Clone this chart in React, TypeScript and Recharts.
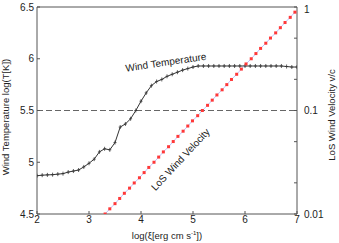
import {
  ComposedChart,
  Line,
  XAxis,
  YAxis,
  ReferenceLine,
} from 'recharts'

// log(xi) grid for the temperature curve
const tempX = [
  2.0, 2.1, 2.2, 2.3, 2.4, 2.5, 2.6, 2.7, 2.8, 2.9,
  3.0, 3.1, 3.2, 3.3, 3.4, 3.5, 3.6, 3.7, 3.8, 3.9,
  4.0, 4.1, 4.2, 4.3, 4.4, 4.5, 4.6, 4.7, 4.8, 4.9,
  5.0, 5.1, 5.2, 5.3, 5.4, 5.5, 5.6, 5.7, 5.8, 5.9,
  6.0, 6.1, 6.2, 6.3, 6.4, 6.5, 6.6, 6.7, 6.8, 6.9, 7.0,
]
const tempY = [
  4.87, 4.875, 4.878, 4.88, 4.885, 4.89, 4.905, 4.915, 4.925, 4.955,
  4.99, 5.03, 5.1, 5.13, 5.12, 5.19, 5.34, 5.37, 5.42, 5.5,
  5.59, 5.67, 5.74, 5.78, 5.8, 5.83, 5.85, 5.87, 5.89, 5.905,
  5.92, 5.93, 5.93, 5.93, 5.93, 5.93, 5.93, 5.93, 5.93, 5.93,
  5.93, 5.93, 5.93, 5.93, 5.93, 5.93, 5.93, 5.93, 5.925, 5.92, 5.92,
]

// line-of-sight velocity (v/c) markers
const velX = [
  3.31, 3.4, 3.5, 3.59, 3.68, 3.78, 3.87, 3.97, 4.06, 4.15,
  4.25, 4.34, 4.43, 4.53, 4.62, 4.71, 4.81, 4.9, 4.99, 5.09,
  5.18, 5.28, 5.37, 5.46, 5.56, 5.65, 5.74, 5.84, 5.93, 6.02,
  6.12, 6.21, 6.3, 6.4, 6.49, 6.59, 6.68, 6.77, 6.87, 6.96,
]
const velY = [
  0.01, 0.01122, 0.01259, 0.01413, 0.01585, 0.01778, 0.01995, 0.02239, 0.02512, 0.02818,
  0.03162, 0.03548, 0.03981, 0.04467, 0.05012, 0.05623, 0.0631, 0.07079, 0.07943, 0.08913,
  0.1, 0.1122, 0.1259, 0.1413, 0.1585, 0.1778, 0.1995, 0.2239, 0.2512, 0.2818,
  0.3162, 0.3548, 0.3981, 0.4467, 0.5012, 0.5623, 0.631, 0.7079, 0.7943, 0.8913,
]

const xTicks = [2, 3, 4, 5, 6, 7]
const tempTicks = [4.5, 5, 5.5, 6, 6.5]
const velTicks = [
  0.01, 0.02, 0.03, 0.04, 0.05, 0.06, 0.07, 0.08, 0.09,
  0.1, 0.2, 0.3, 0.4, 0.5, 0.6, 0.7, 0.8, 0.9, 1,
]
const velLabels = [0.01, 0.1, 1]

const tempData = tempX.map((x, i) => ({ x, t: tempY[i] }))
const velData = velX.map((x, i) => ({ x, v: velY[i] }))

const FONT = '"Liberation Sans", Arial, sans-serif'
const AXIS = '#555'

const PlusDot = (props: any) => {
  const { cx, cy, index } = props
  if (cx == null || cy == null) return null
  return (
    <path
      key={`p-${index}`}
      d={`M${cx - 1.5},${cy}H${cx + 1.5}M${cx},${cy - 2}V${cy + 2}`}
      stroke="#333"
      strokeWidth={0.8}
      fill="none"
    />
  )
}

const SquareDot = (props: any) => {
  const { cx, cy, index } = props
  if (cx == null || cy == null) return null
  return (
    <rect
      key={`s-${index}`}
      x={cx - 1.5}
      y={cy - 1.5}
      width={3}
      height={3}
      fill="#ff3838"
    />
  )
}

const XTick = (props: any) => {
  const { x, y, payload } = props
  return (
    <text
      x={x}
      y={y}
      dy="0.75em"
      textAnchor="middle"
      fontSize={10}
      fontFamily={FONT}
      fill="#222"
    >
      {payload.value}
    </text>
  )
}

const VelTick = (props: any) => {
  const { x, y, payload } = props
  if (!velLabels.includes(payload.value)) return <g />
  return (
    <text
      x={x}
      y={y}
      dy="0.35em"
      textAnchor="start"
      fontSize={10}
      fontFamily={FONT}
      fill="#222"
    >
      {payload.value}
    </text>
  )
}

export default function App() {
  const tickStyle = { fontSize: 10, fontFamily: FONT, fill: '#222' }
  return (
    <div style={{ position: 'absolute', left: 0, top: 0, width: 339, height: 243 }}>
      <ComposedChart
        width={339}
        height={243}
        margin={{ top: 0, right: 0, bottom: 0, left: 0 }}
      >
        <XAxis
          xAxisId="b"
          dataKey="x"
          type="number"
          domain={[2, 7]}
          ticks={xTicks}
          height={29}
          tickSize={-3}
          tickMargin={4}
          tick={<XTick />}
          stroke={AXIS}
          allowDataOverflow
        />
        <XAxis
          xAxisId="t"
          orientation="top"
          type="number"
          domain={[2, 7]}
          ticks={xTicks}
          height={7}
          tickSize={-3}
          tick={false}
          stroke={AXIS}
          allowDataOverflow
        />
        <YAxis
          yAxisId="l"
          type="number"
          domain={[4.5, 6.5]}
          ticks={tempTicks}
          width={37}
          tickSize={-3}
          tickMargin={6}
          tick={tickStyle}
          stroke={AXIS}
          allowDataOverflow
        />
        <YAxis
          yAxisId="r"
          orientation="right"
          type="number"
          scale="log"
          domain={[0.01, 1]}
          ticks={velTicks}
          width={42}
          tickSize={-3}
          tickMargin={10}
          tick={<VelTick />}
          stroke={AXIS}
          allowDataOverflow
        />
        <ReferenceLine
          yAxisId="l"
          xAxisId="b"
          y={5.5}
          stroke="#666"
          strokeDasharray="6 3"
        />
        <Line
          data={tempData}
          xAxisId="b"
          yAxisId="l"
          dataKey="t"
          type="linear"
          stroke="#333"
          strokeWidth={1}
          dot={<PlusDot />}
          isAnimationActive={false}
        />
        <Line
          data={velData}
          xAxisId="b"
          yAxisId="r"
          dataKey="v"
          type="linear"
          stroke="#a8b4ff"
          strokeWidth={0.8}
          dot={<SquareDot />}
          isAnimationActive={false}
        />
      </ComposedChart>
      <svg
        width={339}
        height={243}
        style={{ position: 'absolute', left: 0, top: 0, pointerEvents: 'none' }}
        fontFamily={FONT}
        fill="#222"
      >
        <text x={6} y={117} fontSize={9.5} textAnchor="middle" dominantBaseline="middle" transform="rotate(-90 6 117)">
          Wind Temperature  log(T[K])
        </text>
        <text x={332} y={115} fontSize={9.5} textAnchor="middle" dominantBaseline="middle" transform="rotate(-90 332 115)">
          LoS Wind Velocity  v/c
        </text>
        <text x={167} y={236} fontSize={9.5} textAnchor="middle" dominantBaseline="middle">
          log(ξ[erg cm s<tspan fontSize={6} dy={-3}>-1</tspan><tspan dy={3}>])</tspan>
        </text>
        <text x={166} y={63} fontSize={10} textAnchor="middle" dominantBaseline="middle" transform="rotate(-8.5 166 63)">
          Wind Temperature
        </text>
        <text x={181} y={160} fontSize={10} textAnchor="middle" dominantBaseline="middle" transform="rotate(-47 181 160)">
          LoS Wind Velocity
        </text>
      </svg>
    </div>
  )
}
